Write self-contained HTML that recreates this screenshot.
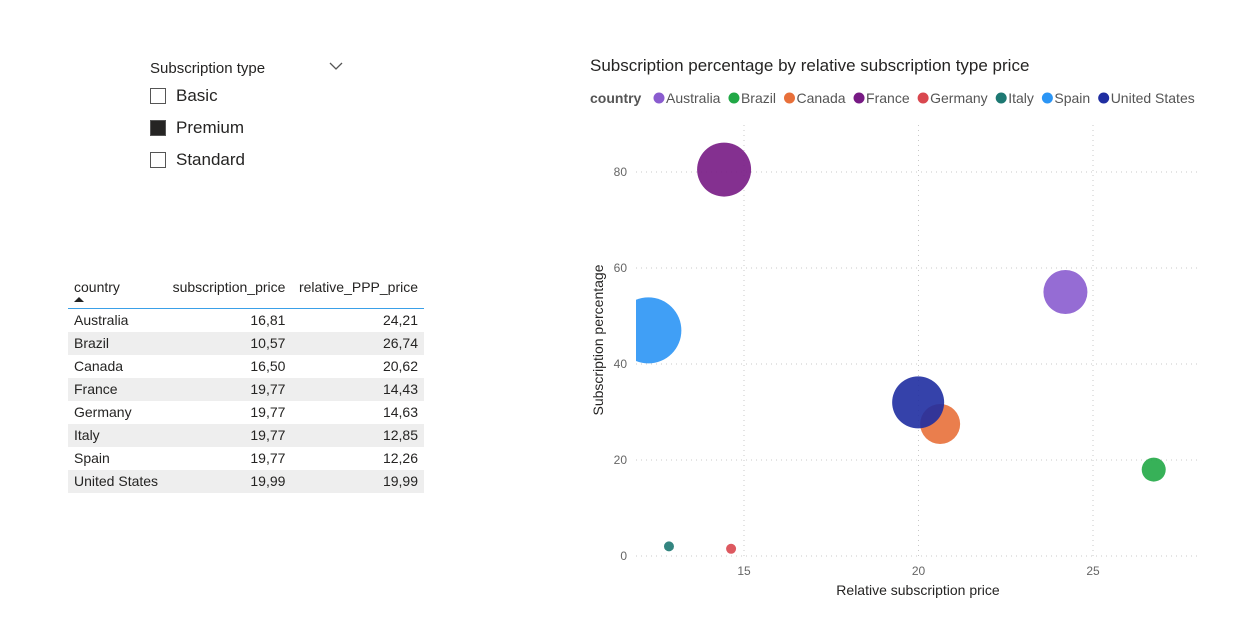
<!DOCTYPE html>
<html><head><meta charset="utf-8"><style>
body{margin:0;width:1256px;height:636px;background:#fff;font-family:"Liberation Sans","DejaVu Sans",sans-serif;position:relative;overflow:hidden;color:#252423}
.abs{position:absolute}
.cb{position:absolute;left:150px;width:16px;height:16px;border:1px solid #555;box-sizing:border-box}
.lbl{position:absolute;left:176px;font-size:17px}
table{position:absolute;left:68px;top:275px;width:356px;border-collapse:collapse;font-size:14px}
td,th{padding:0 6px;height:23px;font-weight:normal}
th{text-align:right;height:33px;vertical-align:top;padding-top:4px;border-bottom:1px solid #3aa0e8;box-sizing:border-box}
tr.g td{background:#eeeeee}
td.n{text-align:right}
</style></head><body>
<div class="abs" style="left:150px;top:60px;font-size:15px">Subscription type</div>
<svg class="abs" style="left:328px;top:61px" width="16" height="10"><polyline points="2,2 8,8 14,2" fill="none" stroke="#555" stroke-width="1.3"/></svg>
<div class="cb" style="top:88px"></div><div class="lbl" style="top:86px">Basic</div>
<div class="cb" style="top:120px;background:#252423"></div><div class="lbl" style="top:118px">Premium</div>
<div class="cb" style="top:152px"></div><div class="lbl" style="top:150px">Standard</div>

<table>
<tr><th style="text-align:left">country<div style="width:0;height:0;border-left:5px solid transparent;border-right:5px solid transparent;border-bottom:5px solid #222;margin-top:2px"></div></th><th>subscription_price</th><th>relative_PPP_price</th></tr>
<tr><td>Australia</td><td class="n">16,81</td><td class="n">24,21</td></tr>
<tr class="g"><td>Brazil</td><td class="n">10,57</td><td class="n">26,74</td></tr>
<tr><td>Canada</td><td class="n">16,50</td><td class="n">20,62</td></tr>
<tr class="g"><td>France</td><td class="n">19,77</td><td class="n">14,43</td></tr>
<tr><td>Germany</td><td class="n">19,77</td><td class="n">14,63</td></tr>
<tr class="g"><td>Italy</td><td class="n">19,77</td><td class="n">12,85</td></tr>
<tr><td>Spain</td><td class="n">19,77</td><td class="n">12,26</td></tr>
<tr class="g"><td>United States</td><td class="n">19,99</td><td class="n">19,99</td></tr>
</table>

<svg id="chart" class="abs" style="left:0;top:0" width="1256" height="636"></svg>
<script>
const countries=["Australia","Brazil","Canada","France","Germany","Italy","Spain","United States"];
const colors=["#8a5ccf","#21a846","#e8703a","#771a84","#d9474f","#1d7872","#2b95f5","#1f2ea1"];
const xVals=[24.21,26.74,20.62,14.43,14.63,12.85,12.26,19.99];
const yVals=[55,18,27.5,80.5,1.5,2,47,32];
const sizes=[22,12,20,27,5,5,33,26];
const xTicks=[15,20,25];
const yTicks=[0,20,40,60,80];
const NS="http://www.w3.org/2000/svg";
const svg=document.getElementById('chart');
const X=v=>744+(v-15)*34.9, Y=v=>556-v*4.8;
const L=636,R=1197,T=125,B=556;
function el(t,a,p){const e=document.createElementNS(NS,t);for(const k in a)e.setAttribute(k,a[k]);(p||svg).appendChild(e);return e;}
const defs=el('defs',{});const cp=el('clipPath',{id:'pc'},defs);el('rect',{x:L,y:T-10,width:R-L,height:B-T+30},cp);
let t=el('text',{x:590,y:71,'font-size':17,fill:'#252423'});t.textContent="Subscription percentage by relative subscription type price";

t=el('text',{x:590,y:103,'font-size':14,'font-weight':'bold',fill:'#555'});t.textContent="country";

let lx=659;
countries.forEach((c,i)=>{const g=el('g',{});
el('circle',{cx:lx,cy:98,r:5.5,fill:colors[i]},g);const tx=el('text',{x:lx+7,y:103,'font-size':14,fill:'#555'},g);tx.textContent=c;
const w=tx.getComputedTextLength();lx+=7+w+13.5;});
yTicks.forEach(v=>{const l=el('line',{x1:L,x2:R,y1:Y(v),y2:Y(v),stroke:'#c8c8c8','stroke-dasharray':'1,4'});
const tx=el('text',{x:627,y:Y(v)+4,'font-size':12,fill:'#666','text-anchor':'end'});tx.textContent=v;});
xTicks.forEach(v=>{const l=el('line',{x1:X(v),x2:X(v),y1:T,y2:B,stroke:'#c8c8c8','stroke-dasharray':'1,4'});
const tx=el('text',{x:X(v),y:575,'font-size':12,fill:'#666','text-anchor':'middle'});tx.textContent=v;});
const g=el('g',{'clip-path':'url(#pc)'});
countries.forEach((c,i)=>{const b=el('circle',{cx:X(xVals[i]),cy:Y(yVals[i]),r:sizes[i],fill:colors[i],'fill-opacity':0.9},g);
});
t=el('text',{x:918,y:595,'font-size':14,fill:'#252423','text-anchor':'middle'});t.textContent="Relative subscription price";

t=el('text',{x:0,y:0,'font-size':14,fill:'#252423','text-anchor':'middle',transform:'translate(603,340) rotate(-90)'});t.textContent="Subscription percentage";

</script>
</body></html>
